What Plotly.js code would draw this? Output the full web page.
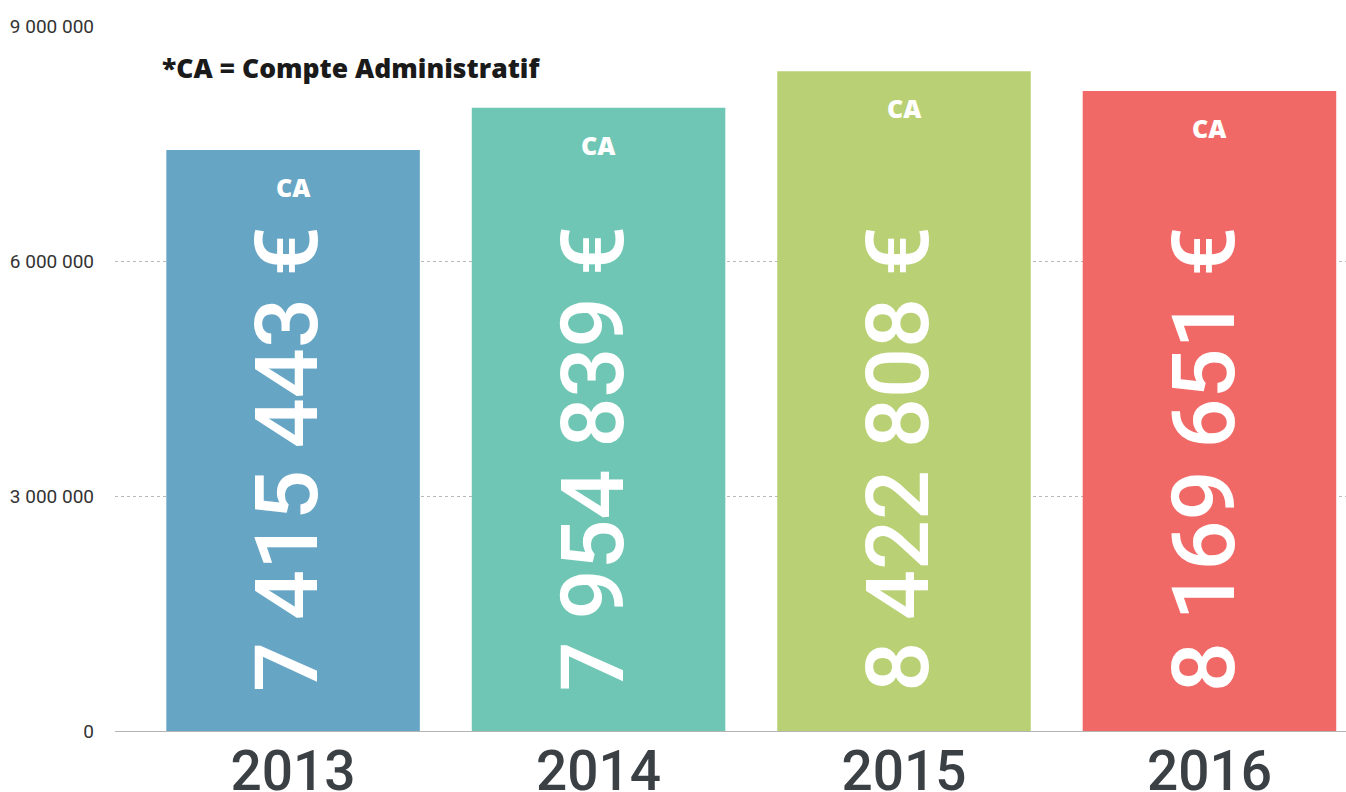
<!DOCTYPE html>
<html>
<head>
<meta charset="utf-8">
<script src="https://cdn.plot.ly/plotly-3.0.1.min.js"></script>
<style>
html,body{margin:0;padding:0;background:#fff;}
#chart{width:1346px;height:792px;}
</style>
</head>
<body>
<div id="chart"></div>
<script>
// Data
const years = ["2013", "2014", "2015", "2016"];
const values = [7415443, 7954839, 8422808, 8169651];
const valueLabels = ["7 415 443 €", "7 954 839 €", "8 422 808 €", "8 169 651 €"];
const barLabel = "CA";
const colors = ["#67A5C4", "#6FC6B4", "#B9D174", "#F16966"];
const yTicks = [0, 3000000, 6000000, 9000000];
const yTickText = ["0", "3 000 000", "6 000 000", "9 000 000"];
const note = "*CA = Compte Administratif";

const trace = {
  type: "bar",
  x: years,
  y: values,
  marker: {color: colors, line: {width: 0}},
  hoverinfo: "none"
};

const annotations = [];
years.forEach((yr, i) => {
  annotations.push({
    x: i, y: values[i], xref: "x", yref: "y",
    text: barLabel, showarrow: false,
    yanchor: "middle", yshift: -37,
    font: {family: "Open Sans", size: 25, color: "#ffffff", weight: 800}
  });
  annotations.push({
    x: i, y: 0.386, xref: "x", yref: "paper",
    text: valueLabels[i], showarrow: false, textangle: -90,
    xanchor: "center", yanchor: "middle", xshift: -6,
    font: {family: "Roboto", size: 88, color: "#ffffff", weight: 500}
  });
});
annotations.push({
  x: (160 - 115) / 1231, y: (731 - 68) / 705, xref: "paper", yref: "paper",
  xanchor: "left", yanchor: "middle",
  text: note, showarrow: false,
  font: {family: "Open Sans", size: 26.5, color: "#1a1a1a", weight: 800}
});

const layout = {
  width: 1346, height: 792,
  margin: {l: 115, r: 0, t: 26, b: 61, pad: 0},
  paper_bgcolor: "#ffffff", plot_bgcolor: "#ffffff",
  showlegend: false,
  bargap: 0.17,
  xaxis: {
    type: "category",
    range: [-0.583, 3.447],
    showgrid: false, zeroline: false,
    showline: true, linecolor: "#b4b4b4", linewidth: 1,
    ticks: "",
    tickfont: {family: "Roboto", size: 55, color: "#3b4045", weight: 500},
    ticklabelstandoff: -8
  },
  yaxis: {
    range: [0, 9000000],
    tickvals: yTicks, ticktext: yTickText,
    showgrid: true, gridcolor: "#b8b8b8", gridwidth: 1, griddash: "dot",
    zeroline: false, showline: false, ticks: "",
    tickfont: {family: "Roboto", size: 19, color: "#333333"},
    ticklabelstandoff: 20
  },
  annotations: annotations
};

Plotly.newPlot("chart", [trace], layout, {displayModeBar: false, staticPlot: true});
</script>
</body>
</html>
